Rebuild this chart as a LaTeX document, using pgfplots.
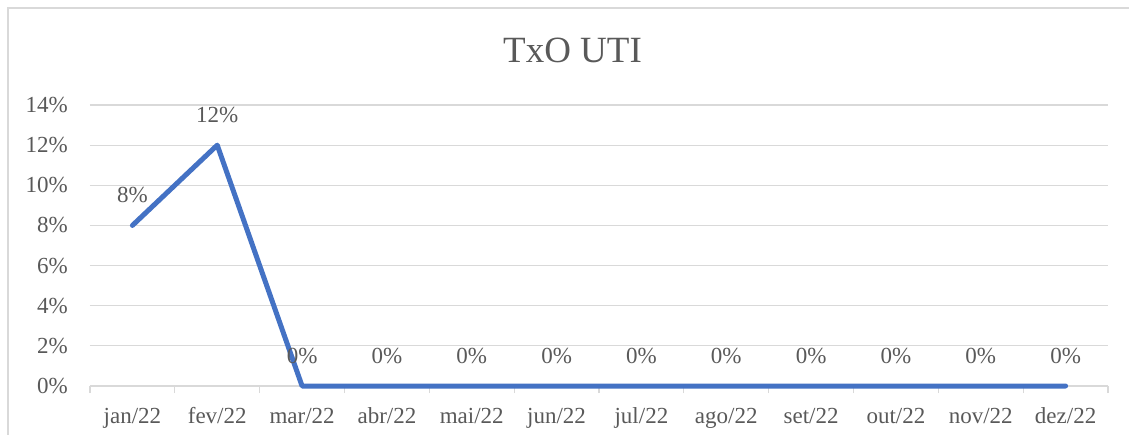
\documentclass[border=0pt]{standalone}
\usepackage{pgfplots}
\pgfplotsset{compat=1.18}
\usepackage{fontspec}
\setmainfont{Liberation Serif}
\definecolor{txt}{HTML}{595959}
\definecolor{grd}{HTML}{D9D9D9}
\definecolor{ln}{HTML}{4472C4}
\begin{document}
\begin{tikzpicture}[x=1pt,y=1pt]
\path[use as bounding box] (-90,-48) rectangle (1039,386);
\draw[grd, line width=1.5pt] (-82,-60) -- (-82,378) -- (1050,378);
\begin{axis}[
  at={(0,0)}, anchor=south west,
  scale only axis, width=1018pt, height=281pt,
  xmin=0.5, xmax=12.5, ymin=0, ymax=14,
  clip=false,
  axis x line*=bottom, axis y line*=left,
  y axis line style={draw=none},
  x axis line style={draw=grd, line width=1.2pt},
  ymajorgrids, grid style={draw=grd, line width=1.2pt},
  ytick={0,2,...,14},
  yticklabel={\pgfmathprintnumber{\tick}\%},
  ytick style={draw=none},
  xtick={1,...,12},
  xticklabels={jan/22,fev/22,mar/22,abr/22,mai/22,jun/22,jul/22,ago/22,set/22,out/22,nov/22,dez/22},
  major tick length=0pt,
  extra x ticks={0.5,1.5,...,12.5},
  extra x tick labels={},
  extra x tick style={major tick length=7pt, tick align=outside, tick style={draw=grd, line width=1.2pt}, grid=none},
  /pgf/number format/assume math mode=true,
  tick label style={font=\fontsize{23}{27}\selectfont, text=txt},
  yticklabel style={anchor=east, inner sep=0pt, xshift=-22pt},
  xticklabel style={anchor=base, inner sep=0pt, yshift=-37pt},
  nodes near coords={\pgfmathprintnumber{\pgfplotspointmeta}\%},
  every node near coord/.append style={anchor=base, inner sep=0pt, yshift=23pt, font=\fontsize{23}{27}\selectfont, text=txt},
]
\addplot[ln, line width=5pt, line join=round, line cap=round, mark=none] coordinates {
(1,8) (2,12) (3,0) (4,0) (5,0) (6,0) (7,0) (8,0) (9,0) (10,0) (11,0) (12,0)};
\end{axis}
\node[anchor=base, text=txt, font=\fontsize{37}{44}\selectfont, inner sep=0pt] at (482.5,323) {TxO UTI};
\end{tikzpicture}
\end{document}
